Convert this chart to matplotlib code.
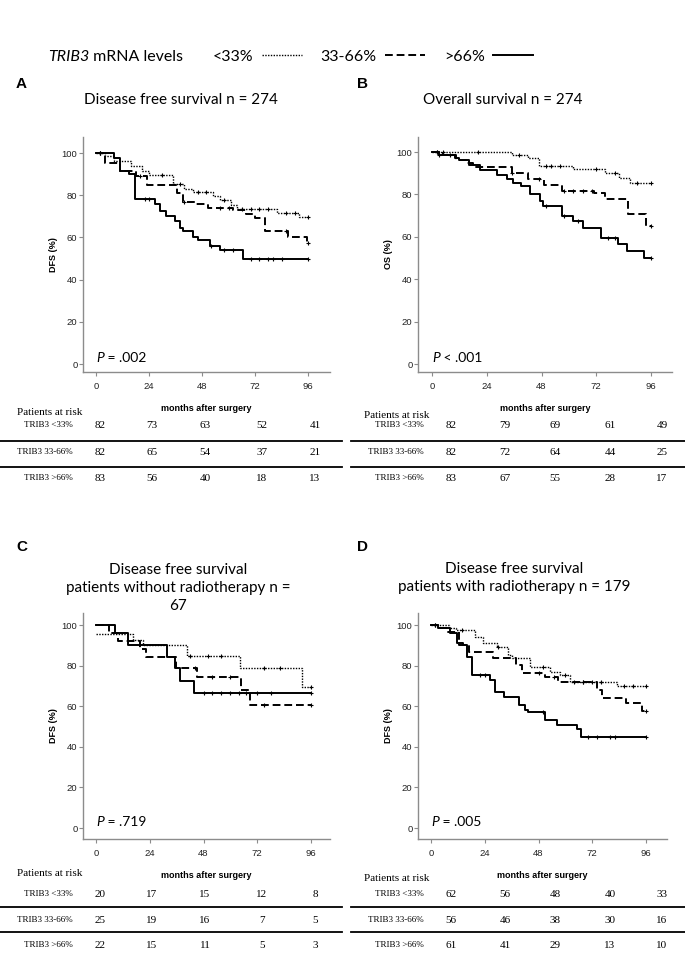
import numpy as np
import matplotlib.pyplot as plt
from matplotlib.lines import Line2D

W, H = 685, 963

MONTH_TICKS = [0, 24, 48, 72, 96]
PCT_TICKS = [0, 20, 40, 60, 80, 100]
GROUPS = ["<33%", "33-66%", ">66%"]
RISK_LABELS = ["TRIB3 <33%", "TRIB3 33-66%", "TRIB3 >66%"]

# --- A: disease free survival, all patients -------------------------------
A_LOW_T = [0, 4, 8, 16, 21, 24, 35, 40, 44, 53, 56, 61, 64, 82, 92]
A_LOW_S = [100, 98.6, 96.2, 93.9, 91.5, 89.5, 85.2, 82.9, 81.3, 79.7, 77.7, 75.5, 73.5, 71.8, 69.8]
A_MID_T = [0, 4, 11, 18, 23, 36.5, 39.5, 44.7, 50.7, 62, 68, 72, 76.5, 87, 95.5]
A_MID_S = [100, 95.4, 91.5, 89, 85, 81.2, 77, 75.7, 74, 72.9, 71, 69, 63, 60, 57.5]
A_HIGH_T = [0, 8, 11, 15, 17.7, 26.7, 29, 31.7, 35.8, 38, 39.5, 44, 46.3, 51.6, 56.1, 66.7]
A_HIGH_S = [100, 97.8, 91.5, 90, 78.3, 75.7, 72.6, 70.3, 68, 64.5, 63, 60, 58.9, 56, 54, 49.8]
A_LOW_CENS = [2, 30, 38, 46, 50, 58, 66, 70, 74, 78, 86, 90, 96]
A_MID_CENS = [2, 20, 40, 56, 60, 86, 96]
A_HIGH_CENS = [2, 22, 24, 52, 58, 62, 70, 74, 78, 80, 84, 96]
A_RISK = [[82, 73, 63, 52, 41], [82, 65, 54, 37, 21], [83, 56, 40, 18, 13]]

# --- B: overall survival, all patients ------------------------------------
B_LOW_T = [0, 35, 42, 47, 62, 76, 82, 87]
B_LOW_S = [100, 98.6, 97, 93.6, 91.8, 90.2, 87.6, 85.5]
B_MID_T = [0, 5, 10.7, 15, 18, 35, 42, 49, 57, 71, 76, 86, 94]
B_MID_S = [100, 98.6, 96.2, 94.7, 93, 90, 87.3, 84.5, 81.8, 80.5, 77.7, 70.8, 65.1]
B_HIGH_T = [0, 3, 10, 12, 16, 21, 28.5, 32.7, 35.6, 39, 43, 47.4, 48.7, 57, 62, 66, 74, 81.5, 85.5, 93]
B_HIGH_S = [100, 98.6, 97, 96, 93.9, 91.5, 89.2, 87.2, 85.4, 83.8, 80.4, 76.8, 74.5, 69.8, 67.5, 64.3, 59.3, 56.4, 53.3, 50.1]
B_LOW_CENS = [2, 5, 20, 38, 50, 52, 56, 72, 80, 90, 96]
B_MID_CENS = [2, 35, 47, 58, 62, 66, 70, 96]
B_HIGH_CENS = [3, 8, 50, 58, 64, 77, 80, 96]
B_RISK = [[82, 79, 69, 61, 49], [82, 72, 64, 44, 25], [83, 67, 55, 28, 17]]

# --- C: DFS, patients without radiotherapy --------------------------------
C_LOW_T = [0, 16.7, 21.1, 40.5, 64.3, 91.8]
C_LOW_S = [95.4, 92.6, 90.1, 84.7, 78.7, 69.6]
C_MID_T = [0, 6, 10, 19.6, 22.2, 35.7, 45, 64.6, 68.8]
C_MID_S = [100, 96, 92, 88, 84, 79, 74.5, 68, 60.4]
C_HIGH_T = [0, 8.5, 14.4, 31.6, 35.3, 37.5, 43.8]
C_HIGH_S = [100, 95.9, 90.1, 84.4, 78.7, 72.6, 66.4]
C_LOW_CENS = [42, 50, 56, 75, 82, 96]
C_MID_CENS = [44, 52, 60, 75, 96]
C_HIGH_CENS = [48, 52, 56, 60, 64, 67, 72, 78, 96]
C_RISK = [[20, 17, 15, 12, 8], [25, 19, 16, 7, 5], [22, 15, 11, 5, 3]]

# --- D: DFS, patients with radiotherapy -----------------------------------
D_LOW_T = [0, 8, 11, 19.6, 23.4, 29.3, 34.5, 36, 44, 53.2, 57.7, 62, 82.9]
D_LOW_S = [100, 98.4, 97.5, 94.2, 91, 89, 85.2, 83.6, 79.5, 77, 75.4, 72.1, 70.1]
D_MID_T = [0, 3, 7, 12.5, 17, 27.5, 38, 40.5, 50.9, 56.9, 74, 76.2, 87.1, 94]
D_MID_S = [100, 98.4, 96.7, 90, 86.9, 83.9, 80.3, 76.5, 74.3, 72.1, 68, 64.2, 61.5, 57.4]
D_HIGH_T = [0, 3, 8.6, 11.6, 14.5, 16, 18.3, 26.4, 28.7, 32.4, 39.1, 42, 43.5, 51, 56.2, 65.1, 66.9]
D_HIGH_S = [100, 98.4, 95.9, 91, 90, 84.4, 75.4, 73, 67.2, 64.4, 60.6, 58.2, 56.9, 53.3, 50.8, 48.7, 44.8]
D_LOW_CENS = [2, 14, 30, 50, 60, 64, 68, 72, 76, 86, 90, 96]
D_MID_CENS = [2, 48, 55, 68, 96]
D_HIGH_CENS = [22, 24, 50, 70, 74, 80, 82, 96]
D_RISK = [[62, 56, 48, 40, 33], [56, 46, 38, 30, 16], [61, 41, 29, 13, 10]]

STYLES = {
    "<33%": dict(linestyle=(0, (1, 1)), linewidth=1.0),
    "33-66%": dict(linestyle=(0, (4, 2)), linewidth=1.4),
    ">66%": dict(linestyle="-", linewidth=1.4),
}
SPINE = "#8c8c8c"
TEXT_FONT = "Lato"
AXIS_FONT = "Liberation Sans"
TABLE_FONT = "Liberation Serif"

fig = plt.figure(figsize=(W / 100, H / 100), dpi=100)


def px(x, y):
    return x / W, 1 - y / H


def km_panel(left, top, right, bottom, x0, x96, y100, y0, curves, ylabel, ptext):
    ax = fig.add_axes([left / W, 1 - bottom / H, (right - left) / W, (bottom - top) / H])
    xs = (x96 - x0) / 96
    ys = (y0 - y100) / 100
    ax.set_xlim((left - x0) / xs, (right - x0) / xs)
    ax.set_ylim(-(bottom - y0) / ys, 100 + (y100 - top) / ys)

    for group, (t, s, cens) in zip(GROUPS, curves):
        t = np.asarray(t, dtype=float)
        s = np.asarray(s, dtype=float)
        ax.step(np.append(t, 96), np.append(s, s[-1]), where="post",
                color="black", **STYLES[group])
        c = np.asarray(cens, dtype=float)
        cy = s[np.searchsorted(t, c, side="right") - 1]
        ax.plot(c, cy, linestyle="none", marker="+", markersize=3.5,
                markeredgewidth=0.8, color="black")

    for side in ("top", "right"):
        ax.spines[side].set_visible(False)
    for side in ("left", "bottom"):
        ax.spines[side].set_color(SPINE)
        ax.spines[side].set_linewidth(1.0)
    ax.set_xticks(MONTH_TICKS)
    ax.set_yticks(PCT_TICKS)
    ax.tick_params(axis="both", direction="out", length=3, width=0.8, color=SPINE,
                   labelsize=6.8, labelcolor="#222222")
    ax.tick_params(axis="x", pad=4)
    ax.tick_params(axis="y", pad=1)
    for lab in ax.get_xticklabels() + ax.get_yticklabels():
        lab.set_fontfamily(AXIS_FONT)

    ax.set_ylabel(ylabel, fontsize=6.5, fontweight="bold", family=AXIS_FONT)
    ax.yaxis.set_label_coords(-25 / (right - left), 0.5)
    ax.set_xlabel("months after surgery", fontsize=6.5, fontweight="bold", family=AXIS_FONT)
    ax.xaxis.set_label_coords(0.5, -32 / (bottom - top))

    op, val = ptext
    tp = ax.text(0.3, 3, "P", fontsize=10, style="italic", family=TEXT_FONT,
                 ha="left", va="center")
    ax.annotate(f" {op} {val}", xy=(1, 0), xycoords=tp, fontsize=10,
                family=TEXT_FONT, ha="left", va="bottom")
    return ax


def risk_table(label_right, cols, rows_y, lines_y, line_x, risk, head_x, head_y):
    fig.text(*px(head_x, head_y), "Patients at risk", fontsize=8, family=TABLE_FONT,
             ha="left", va="center")
    for lab, y, vals in zip(RISK_LABELS, rows_y, risk):
        fig.text(*px(label_right, y), lab, fontsize=6.5, family=TABLE_FONT,
                 ha="right", va="center")
        for x, v in zip(cols, vals):
            fig.text(*px(x, y), str(v), fontsize=8, family=TABLE_FONT,
                     ha="center", va="center")
    for y in lines_y:
        fig.add_artist(Line2D([line_x[0] / W, line_x[1] / W], [1 - y / H, 1 - y / H],
                              color="black", linewidth=1.3))


def panel_letter(x, y, letter):
    fig.text(*px(x, y), letter, fontsize=11, fontweight="bold", family=AXIS_FONT,
             ha="left", va="center")


# --- header legend ---------------------------------------------------------
t1 = fig.text(*px(48, 57), "TRIB3", fontsize=11.5, style="italic", family=TEXT_FONT,
              ha="left", va="center")
fig.add_artist(plt.Annotation(" mRNA levels", xy=(1, 0), xycoords=t1, fontsize=11.5,
                              family=TEXT_FONT, ha="left", va="bottom"))
handles = [Line2D([], [], color="black", **STYLES[g]) for g in GROUPS]
fig.legend(handles, GROUPS, loc="center left", bbox_to_anchor=px(205, 57), ncol=3,
           frameon=False, markerfirst=False, borderpad=0, handlelength=2.5,
           handletextpad=0.5, columnspacing=1.2,
           prop=dict(family=TEXT_FONT, size=11.5))

# --- panels ----------------------------------------------------------------
panel_letter(16, 84, "A")
panel_letter(357, 84, "B")
panel_letter(16, 547, "C")
panel_letter(357, 547, "D")

fig.text(*px(181, 100), "Disease free survival n = 274", fontsize=11,
         family=TEXT_FONT, ha="center", va="center")
fig.text(*px(503, 100), "Overall survival n = 274", fontsize=11,
         family=TEXT_FONT, ha="center", va="center")
fig.text(*px(178, 588), "Disease free survival\npatients without radiotherapy n =\n67",
         fontsize=11, family=TEXT_FONT, ha="center", va="center", linespacing=1.4)
fig.text(*px(514, 578), "Disease free survival\npatients with radiotherapy n = 179",
         fontsize=11, family=TEXT_FONT, ha="center", va="center", linespacing=1.4)

km_panel(83, 137, 330, 372, 96, 308, 153, 364,
         [(A_LOW_T, A_LOW_S, A_LOW_CENS), (A_MID_T, A_MID_S, A_MID_CENS),
          (A_HIGH_T, A_HIGH_S, A_HIGH_CENS)], "DFS (%)", ("=", ".002"))
km_panel(418, 137, 672, 372, 432, 651, 152, 364,
         [(B_LOW_T, B_LOW_S, B_LOW_CENS), (B_MID_T, B_MID_S, B_MID_CENS),
          (B_HIGH_T, B_HIGH_S, B_HIGH_CENS)], "OS (%)", ("<", ".001"))
km_panel(83, 613, 330, 839, 96, 311, 625, 828,
         [(C_LOW_T, C_LOW_S, C_LOW_CENS), (C_MID_T, C_MID_S, C_MID_CENS),
          (C_HIGH_T, C_HIGH_S, C_HIGH_CENS)], "DFS (%)", ("=", ".719"))
km_panel(418, 613, 667, 839, 431, 646, 625, 828,
         [(D_LOW_T, D_LOW_S, D_LOW_CENS), (D_MID_T, D_MID_S, D_MID_CENS),
          (D_HIGH_T, D_HIGH_S, D_HIGH_CENS)], "DFS (%)", ("=", ".005"))

LEFT_COLS = [100, 152, 205, 262, 315]
RIGHT_COLS = [451, 505, 555, 610, 662]
risk_table(73, LEFT_COLS, [425, 452, 478], [441, 467], (0, 342), A_RISK, 17, 412)
risk_table(424, RIGHT_COLS, [425, 452, 478], [441, 467], (351, 685), B_RISK, 364, 416)
risk_table(73, LEFT_COLS, [894, 920, 945], [907, 932], (0, 342), C_RISK, 17, 873)
risk_table(424, RIGHT_COLS, [894, 920, 945], [907, 932], (351, 685), D_RISK, 364, 878)

fig.savefig("out.png", dpi=100)
